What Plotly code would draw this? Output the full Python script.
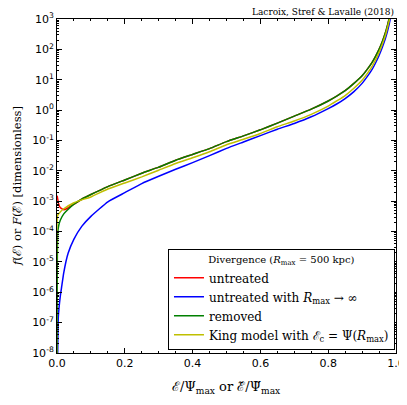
import numpy as np
import plotly.graph_objects as go

# ---- data (log10 of f) ----
x_common = [0.1, 0.15, 0.2, 0.25, 0.3, 0.35, 0.4, 0.45, 0.5, 0.55, 0.6, 0.65,
            0.7, 0.75, 0.8, 0.825, 0.85, 0.875, 0.9, 0.915, 0.93, 0.94, 0.95,
            0.96, 0.968, 0.975, 0.981, 0.99]

green_head_x = [0.0, 0.002, 0.005, 0.01, 0.02, 0.03, 0.05, 0.075]
green_head = [-10.0, -4.05, -3.8, -3.62, -3.42, -3.3, -3.1, -2.92]
green_tail = [-2.78, -2.52, -2.30, -2.08, -1.88, -1.65, -1.46, -1.27, -1.04, -0.85,
              -0.65, -0.43, -0.2, 0.03, 0.30, 0.46, 0.64, 0.87, 1.13, 1.34, 1.58,
              1.78, 2.0, 2.27, 2.52, 2.8, 3.08, 3.7]

red_head_x = [0.0005, 0.002, 0.005, 0.01, 0.02, 0.03, 0.05, 0.075]
red_head = [-2.82, -2.92, -3.1, -3.22, -3.28, -3.24, -3.1, -2.92]

yellow_x = [0.0, 0.002, 0.01, 0.02, 0.05, 0.075, 0.1, 0.15, 0.2, 0.25, 0.3, 0.35,
            0.4, 0.45, 0.5, 0.55, 0.6, 0.65, 0.7, 0.75, 0.8, 0.825, 0.85, 0.875,
            0.9, 0.915, 0.93, 0.94, 0.95, 0.96, 0.968, 0.975, 0.982, 0.99]
yellow = [-10.0, -3.46, -3.35, -3.25, -3.05, -2.95, -2.86, -2.6, -2.4, -2.2, -1.98,
          -1.76, -1.57, -1.37, -1.14, -0.96, -0.77, -0.55, -0.36, -0.14, 0.13, 0.3,
          0.48, 0.71, 0.98, 1.2, 1.45, 1.66, 1.9, 2.18, 2.43, 2.72, 3.05, 3.65]

blue_x = [0.0015, 0.004, 0.01, 0.014, 0.02, 0.033, 0.05, 0.073, 0.1, 0.15, 0.2,
          0.25, 0.3, 0.35, 0.4, 0.45, 0.5, 0.55, 0.6, 0.65, 0.7, 0.75, 0.8, 0.825,
          0.85, 0.875, 0.9, 0.915, 0.93, 0.94, 0.95, 0.96, 0.968, 0.975, 0.983, 0.995]
blue = [-8.5, -6.79, -6.1, -5.8, -5.35, -4.71, -4.25, -3.83, -3.5, -3.02, -2.72,
        -2.42, -2.18, -1.95, -1.73, -1.5, -1.26, -1.05, -0.84, -0.63, -0.44, -0.22,
        0.05, 0.2, 0.38, 0.6, 0.88, 1.1, 1.35, 1.56, 1.8, 2.08, 2.33, 2.6, 3.0, 3.8]

x_ticks = [0.0, 0.2, 0.4, 0.6, 0.8, 1.0]
y_exponents = list(range(-8, 4))

names = [
    "untreated",
    "untreated with <i>R</i><sub>max</sub> → ∞",
    "removed",
    "King model with ℰ<sub>c</sub> = Ψ(<i>R</i><sub>max</sub>)",
]
colors = ["#ff0000", "#0000ff", "#008000", "#bfbf00"]

# ---- build ----
red_x = red_head_x + x_common
red_y = [10 ** v for v in red_head + green_tail]
green_x = green_head_x + x_common
green_y = [10 ** v for v in green_head + green_tail]
blue_y = [10 ** v for v in blue]
yellow_y = [10 ** v for v in yellow]

serif = "DejaVu Serif"
sans = "DejaVu Sans"

fig = go.Figure()
for xs, ys, nm, c in [(red_x, red_y, names[0], colors[0]),
                      (blue_x, blue_y, names[1], colors[1]),
                      (green_x, green_y, names[2], colors[2]),
                      (yellow_x, yellow_y, names[3], colors[3])]:
    fig.add_trace(go.Scatter(x=xs, y=ys, mode="lines", name=nm,
                             line=dict(color=c, width=1.5, shape="spline", smoothing=0.4)))

minor_y = [m * 10.0 ** e for e in range(-8, 3) for m in range(2, 10)]

# page body has an 8px margin, so the figure is sized/offset to compensate
fig.update_layout(
    width=399, height=397,
    margin=dict(l=49, r=11, t=11, b=52, autoexpand=False),
    paper_bgcolor="white", plot_bgcolor="white",
    showlegend=True,
    legend=dict(
        x=0.997, y=0.008, xanchor="right", yanchor="bottom",
        bgcolor="white", bordercolor="black", borderwidth=1,
        font=dict(family=serif, size=12, color="black"),
        title=dict(text="Divergence (<i>R</i><sub>max</sub> = 500 kpc)",
                   side="top center", font=dict(family=serif, size=10, color="black")),
        tracegroupgap=0, itemwidth=30,
    ),
    annotations=[
        dict(text="Lacroix, Stref & Lavalle (2018)", xref="paper", yref="paper",
             x=1, y=1, xanchor="right", yanchor="bottom", showarrow=False,
             font=dict(family=serif, size=9, color="black")),
        dict(text="ℰ/Ψ<sub>max</sub> or ℰ̃/Ψ̃<sub>max</sub>", xref="paper", yref="paper",
             x=0.5, y=0, xanchor="center", yanchor="top", yshift=-24, showarrow=False,
             font=dict(family=serif, size=13, color="black")),
        dict(text="<i>f</i>(ℰ) or <i>F</i>(ℰ̃) [dimensionless]", xref="paper", yref="paper",
             x=0, y=0.5, xanchor="right", yanchor="middle", xshift=-31, textangle=-90,
             showarrow=False, font=dict(family=serif, size=11.5, color="black")),
    ],
)

fig.update_xaxes(
    range=[0, 1], tickvals=x_ticks, ticktext=[f"{v:.1f}" for v in x_ticks],
    ticks="inside", ticklen=5, tickcolor="black", mirror="allticks", automargin=False,
    showline=True, linecolor="black", linewidth=1, showgrid=False, zeroline=False,
    tickfont=dict(family=sans, size=11, color="black"),
    minor=dict(ticks="inside", ticklen=2, tickcolor="black", dtick=0.05, showgrid=False),
)
fig.update_yaxes(
    type="log", range=[-8, 3], automargin=False,
    tickvals=[10.0 ** e for e in y_exponents],
    ticktext=[f"10<sup>{e}</sup>" for e in y_exponents],
    ticks="inside", ticklen=5, tickcolor="black", mirror="allticks",
    showline=True, linecolor="black", linewidth=1, showgrid=False, zeroline=False,
    tickfont=dict(family=sans, size=11, color="black"),
    minor=dict(ticks="inside", ticklen=2, tickcolor="black", tickvals=minor_y, showgrid=False),
)

fig.write_html("out.html")
